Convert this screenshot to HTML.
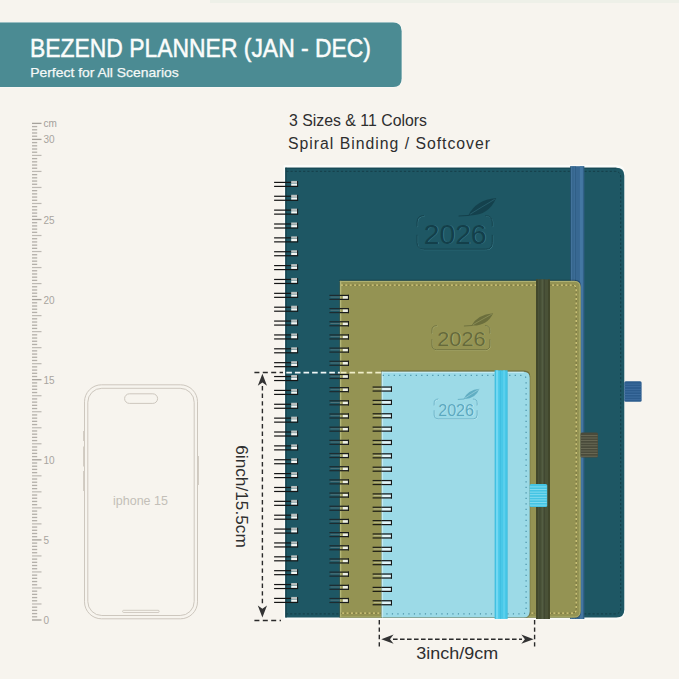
<!DOCTYPE html>
<html><head><meta charset="utf-8"><style>
html,body{margin:0;padding:0;background:#f7f4ee;width:679px;height:679px;overflow:hidden}
svg{display:block}
text{font-family:"Liberation Sans",sans-serif}
</style></head><body>
<svg width="679" height="679" viewBox="0 0 679 679">

<rect x="210" y="0" width="469" height="3" fill="#eef0e8"/>
<path d="M0 22.6 H393 Q401.6 22.6 401.6 31.2 V78.4 Q401.6 87 393 87 H0 Z" fill="#4b8b93" stroke="#fdfdfb" stroke-width="1.2" stroke-opacity="0.8"/>
<path d="M0 22.6 H393 Q401.6 22.6 401.6 31.2 V78.4 Q401.6 87 393 87 H0 Z" fill="#4b8b93"/>
<text x="30" y="57" font-size="25.5" fill="#fafcfb" stroke="#fafcfb" stroke-width="0.5" textLength="341" lengthAdjust="spacingAndGlyphs">BEZEND PLANNER (JAN - DEC)</text>
<text x="30.2" y="77" font-size="13" fill="#f4f8f7" stroke="#f4f8f7" stroke-width="0.25" textLength="148.5" lengthAdjust="spacingAndGlyphs">Perfect for All Scenarios</text>
<rect x="32" y="619.35" width="9.5" height="1.3" fill="#a6a29c"/>
<rect x="32" y="616.15" width="5.2" height="1.3" fill="#b3afa9"/>
<rect x="32" y="612.94" width="5.2" height="1.3" fill="#b3afa9"/>
<rect x="32" y="609.74" width="5.2" height="1.3" fill="#b3afa9"/>
<rect x="32" y="606.53" width="5.2" height="1.3" fill="#b3afa9"/>
<rect x="32" y="603.38" width="9.5" height="1.2" fill="#bdb9b3"/>
<rect x="32" y="600.13" width="5.2" height="1.3" fill="#b3afa9"/>
<rect x="32" y="596.92" width="5.2" height="1.3" fill="#b3afa9"/>
<rect x="32" y="593.72" width="5.2" height="1.3" fill="#b3afa9"/>
<rect x="32" y="590.51" width="5.2" height="1.3" fill="#b3afa9"/>
<rect x="32" y="587.36" width="9.5" height="1.2" fill="#bdb9b3"/>
<rect x="32" y="584.11" width="5.2" height="1.3" fill="#b3afa9"/>
<rect x="32" y="580.90" width="5.2" height="1.3" fill="#b3afa9"/>
<rect x="32" y="577.70" width="5.2" height="1.3" fill="#b3afa9"/>
<rect x="32" y="574.49" width="5.2" height="1.3" fill="#b3afa9"/>
<rect x="32" y="571.34" width="9.5" height="1.2" fill="#bdb9b3"/>
<rect x="32" y="568.09" width="5.2" height="1.3" fill="#b3afa9"/>
<rect x="32" y="564.88" width="5.2" height="1.3" fill="#b3afa9"/>
<rect x="32" y="561.68" width="5.2" height="1.3" fill="#b3afa9"/>
<rect x="32" y="558.47" width="5.2" height="1.3" fill="#b3afa9"/>
<rect x="32" y="555.32" width="9.5" height="1.2" fill="#bdb9b3"/>
<rect x="32" y="552.07" width="5.2" height="1.3" fill="#b3afa9"/>
<rect x="32" y="548.86" width="5.2" height="1.3" fill="#b3afa9"/>
<rect x="32" y="545.66" width="5.2" height="1.3" fill="#b3afa9"/>
<rect x="32" y="542.45" width="5.2" height="1.3" fill="#b3afa9"/>
<rect x="32" y="539.25" width="9.5" height="1.3" fill="#a6a29c"/>
<rect x="32" y="536.05" width="5.2" height="1.3" fill="#b3afa9"/>
<rect x="32" y="532.84" width="5.2" height="1.3" fill="#b3afa9"/>
<rect x="32" y="529.64" width="5.2" height="1.3" fill="#b3afa9"/>
<rect x="32" y="526.43" width="5.2" height="1.3" fill="#b3afa9"/>
<rect x="32" y="523.28" width="9.5" height="1.2" fill="#bdb9b3"/>
<rect x="32" y="520.03" width="5.2" height="1.3" fill="#b3afa9"/>
<rect x="32" y="516.82" width="5.2" height="1.3" fill="#b3afa9"/>
<rect x="32" y="513.62" width="5.2" height="1.3" fill="#b3afa9"/>
<rect x="32" y="510.41" width="5.2" height="1.3" fill="#b3afa9"/>
<rect x="32" y="507.26" width="9.5" height="1.2" fill="#bdb9b3"/>
<rect x="32" y="504.01" width="5.2" height="1.3" fill="#b3afa9"/>
<rect x="32" y="500.80" width="5.2" height="1.3" fill="#b3afa9"/>
<rect x="32" y="497.60" width="5.2" height="1.3" fill="#b3afa9"/>
<rect x="32" y="494.39" width="5.2" height="1.3" fill="#b3afa9"/>
<rect x="32" y="491.24" width="9.5" height="1.2" fill="#bdb9b3"/>
<rect x="32" y="487.99" width="5.2" height="1.3" fill="#b3afa9"/>
<rect x="32" y="484.78" width="5.2" height="1.3" fill="#b3afa9"/>
<rect x="32" y="481.58" width="5.2" height="1.3" fill="#b3afa9"/>
<rect x="32" y="478.37" width="5.2" height="1.3" fill="#b3afa9"/>
<rect x="32" y="475.22" width="9.5" height="1.2" fill="#bdb9b3"/>
<rect x="32" y="471.97" width="5.2" height="1.3" fill="#b3afa9"/>
<rect x="32" y="468.76" width="5.2" height="1.3" fill="#b3afa9"/>
<rect x="32" y="465.56" width="5.2" height="1.3" fill="#b3afa9"/>
<rect x="32" y="462.35" width="5.2" height="1.3" fill="#b3afa9"/>
<rect x="32" y="459.15" width="9.5" height="1.3" fill="#a6a29c"/>
<rect x="32" y="455.95" width="5.2" height="1.3" fill="#b3afa9"/>
<rect x="32" y="452.74" width="5.2" height="1.3" fill="#b3afa9"/>
<rect x="32" y="449.54" width="5.2" height="1.3" fill="#b3afa9"/>
<rect x="32" y="446.33" width="5.2" height="1.3" fill="#b3afa9"/>
<rect x="32" y="443.18" width="9.5" height="1.2" fill="#bdb9b3"/>
<rect x="32" y="439.93" width="5.2" height="1.3" fill="#b3afa9"/>
<rect x="32" y="436.72" width="5.2" height="1.3" fill="#b3afa9"/>
<rect x="32" y="433.52" width="5.2" height="1.3" fill="#b3afa9"/>
<rect x="32" y="430.31" width="5.2" height="1.3" fill="#b3afa9"/>
<rect x="32" y="427.16" width="9.5" height="1.2" fill="#bdb9b3"/>
<rect x="32" y="423.91" width="5.2" height="1.3" fill="#b3afa9"/>
<rect x="32" y="420.70" width="5.2" height="1.3" fill="#b3afa9"/>
<rect x="32" y="417.50" width="5.2" height="1.3" fill="#b3afa9"/>
<rect x="32" y="414.29" width="5.2" height="1.3" fill="#b3afa9"/>
<rect x="32" y="411.14" width="9.5" height="1.2" fill="#bdb9b3"/>
<rect x="32" y="407.89" width="5.2" height="1.3" fill="#b3afa9"/>
<rect x="32" y="404.68" width="5.2" height="1.3" fill="#b3afa9"/>
<rect x="32" y="401.48" width="5.2" height="1.3" fill="#b3afa9"/>
<rect x="32" y="398.27" width="5.2" height="1.3" fill="#b3afa9"/>
<rect x="32" y="395.12" width="9.5" height="1.2" fill="#bdb9b3"/>
<rect x="32" y="391.87" width="5.2" height="1.3" fill="#b3afa9"/>
<rect x="32" y="388.66" width="5.2" height="1.3" fill="#b3afa9"/>
<rect x="32" y="385.46" width="5.2" height="1.3" fill="#b3afa9"/>
<rect x="32" y="382.25" width="5.2" height="1.3" fill="#b3afa9"/>
<rect x="32" y="379.05" width="9.5" height="1.3" fill="#a6a29c"/>
<rect x="32" y="375.85" width="5.2" height="1.3" fill="#b3afa9"/>
<rect x="32" y="372.64" width="5.2" height="1.3" fill="#b3afa9"/>
<rect x="32" y="369.44" width="5.2" height="1.3" fill="#b3afa9"/>
<rect x="32" y="366.23" width="5.2" height="1.3" fill="#b3afa9"/>
<rect x="32" y="363.08" width="9.5" height="1.2" fill="#bdb9b3"/>
<rect x="32" y="359.83" width="5.2" height="1.3" fill="#b3afa9"/>
<rect x="32" y="356.62" width="5.2" height="1.3" fill="#b3afa9"/>
<rect x="32" y="353.42" width="5.2" height="1.3" fill="#b3afa9"/>
<rect x="32" y="350.21" width="5.2" height="1.3" fill="#b3afa9"/>
<rect x="32" y="347.06" width="9.5" height="1.2" fill="#bdb9b3"/>
<rect x="32" y="343.81" width="5.2" height="1.3" fill="#b3afa9"/>
<rect x="32" y="340.60" width="5.2" height="1.3" fill="#b3afa9"/>
<rect x="32" y="337.40" width="5.2" height="1.3" fill="#b3afa9"/>
<rect x="32" y="334.19" width="5.2" height="1.3" fill="#b3afa9"/>
<rect x="32" y="331.04" width="9.5" height="1.2" fill="#bdb9b3"/>
<rect x="32" y="327.79" width="5.2" height="1.3" fill="#b3afa9"/>
<rect x="32" y="324.58" width="5.2" height="1.3" fill="#b3afa9"/>
<rect x="32" y="321.38" width="5.2" height="1.3" fill="#b3afa9"/>
<rect x="32" y="318.17" width="5.2" height="1.3" fill="#b3afa9"/>
<rect x="32" y="315.02" width="9.5" height="1.2" fill="#bdb9b3"/>
<rect x="32" y="311.77" width="5.2" height="1.3" fill="#b3afa9"/>
<rect x="32" y="308.56" width="5.2" height="1.3" fill="#b3afa9"/>
<rect x="32" y="305.36" width="5.2" height="1.3" fill="#b3afa9"/>
<rect x="32" y="302.15" width="5.2" height="1.3" fill="#b3afa9"/>
<rect x="32" y="298.95" width="9.5" height="1.3" fill="#a6a29c"/>
<rect x="32" y="295.75" width="5.2" height="1.3" fill="#b3afa9"/>
<rect x="32" y="292.54" width="5.2" height="1.3" fill="#b3afa9"/>
<rect x="32" y="289.34" width="5.2" height="1.3" fill="#b3afa9"/>
<rect x="32" y="286.13" width="5.2" height="1.3" fill="#b3afa9"/>
<rect x="32" y="282.98" width="9.5" height="1.2" fill="#bdb9b3"/>
<rect x="32" y="279.73" width="5.2" height="1.3" fill="#b3afa9"/>
<rect x="32" y="276.52" width="5.2" height="1.3" fill="#b3afa9"/>
<rect x="32" y="273.32" width="5.2" height="1.3" fill="#b3afa9"/>
<rect x="32" y="270.11" width="5.2" height="1.3" fill="#b3afa9"/>
<rect x="32" y="266.96" width="9.5" height="1.2" fill="#bdb9b3"/>
<rect x="32" y="263.71" width="5.2" height="1.3" fill="#b3afa9"/>
<rect x="32" y="260.50" width="5.2" height="1.3" fill="#b3afa9"/>
<rect x="32" y="257.30" width="5.2" height="1.3" fill="#b3afa9"/>
<rect x="32" y="254.09" width="5.2" height="1.3" fill="#b3afa9"/>
<rect x="32" y="250.94" width="9.5" height="1.2" fill="#bdb9b3"/>
<rect x="32" y="247.69" width="5.2" height="1.3" fill="#b3afa9"/>
<rect x="32" y="244.48" width="5.2" height="1.3" fill="#b3afa9"/>
<rect x="32" y="241.28" width="5.2" height="1.3" fill="#b3afa9"/>
<rect x="32" y="238.07" width="5.2" height="1.3" fill="#b3afa9"/>
<rect x="32" y="234.92" width="9.5" height="1.2" fill="#bdb9b3"/>
<rect x="32" y="231.67" width="5.2" height="1.3" fill="#b3afa9"/>
<rect x="32" y="228.46" width="5.2" height="1.3" fill="#b3afa9"/>
<rect x="32" y="225.26" width="5.2" height="1.3" fill="#b3afa9"/>
<rect x="32" y="222.05" width="5.2" height="1.3" fill="#b3afa9"/>
<rect x="32" y="218.85" width="9.5" height="1.3" fill="#a6a29c"/>
<rect x="32" y="215.65" width="5.2" height="1.3" fill="#b3afa9"/>
<rect x="32" y="212.44" width="5.2" height="1.3" fill="#b3afa9"/>
<rect x="32" y="209.24" width="5.2" height="1.3" fill="#b3afa9"/>
<rect x="32" y="206.03" width="5.2" height="1.3" fill="#b3afa9"/>
<rect x="32" y="202.88" width="9.5" height="1.2" fill="#bdb9b3"/>
<rect x="32" y="199.63" width="5.2" height="1.3" fill="#b3afa9"/>
<rect x="32" y="196.42" width="5.2" height="1.3" fill="#b3afa9"/>
<rect x="32" y="193.22" width="5.2" height="1.3" fill="#b3afa9"/>
<rect x="32" y="190.01" width="5.2" height="1.3" fill="#b3afa9"/>
<rect x="32" y="186.86" width="9.5" height="1.2" fill="#bdb9b3"/>
<rect x="32" y="183.61" width="5.2" height="1.3" fill="#b3afa9"/>
<rect x="32" y="180.40" width="5.2" height="1.3" fill="#b3afa9"/>
<rect x="32" y="177.20" width="5.2" height="1.3" fill="#b3afa9"/>
<rect x="32" y="173.99" width="5.2" height="1.3" fill="#b3afa9"/>
<rect x="32" y="170.84" width="9.5" height="1.2" fill="#bdb9b3"/>
<rect x="32" y="167.59" width="5.2" height="1.3" fill="#b3afa9"/>
<rect x="32" y="164.38" width="5.2" height="1.3" fill="#b3afa9"/>
<rect x="32" y="161.18" width="5.2" height="1.3" fill="#b3afa9"/>
<rect x="32" y="157.97" width="5.2" height="1.3" fill="#b3afa9"/>
<rect x="32" y="154.82" width="9.5" height="1.2" fill="#bdb9b3"/>
<rect x="32" y="151.57" width="5.2" height="1.3" fill="#b3afa9"/>
<rect x="32" y="148.36" width="5.2" height="1.3" fill="#b3afa9"/>
<rect x="32" y="145.16" width="5.2" height="1.3" fill="#b3afa9"/>
<rect x="32" y="141.95" width="5.2" height="1.3" fill="#b3afa9"/>
<rect x="32" y="138.75" width="9.5" height="1.3" fill="#a6a29c"/>
<rect x="32" y="135.55" width="5.2" height="1.3" fill="#b3afa9"/>
<rect x="32" y="132.34" width="5.2" height="1.3" fill="#b3afa9"/>
<rect x="32" y="129.14" width="5.2" height="1.3" fill="#b3afa9"/>
<rect x="32" y="125.93" width="5.2" height="1.3" fill="#b3afa9"/>
<rect x="32" y="122.73" width="9.5" height="1.3" fill="#a6a29c"/>
<text x="43.5" y="127" font-size="10" fill="#a3a09a">cm</text>
<text x="43.5" y="143.4" font-size="10" fill="#a8a49e">30</text>
<text x="43.5" y="223.5" font-size="10" fill="#a8a49e">25</text>
<text x="43.5" y="303.6" font-size="10" fill="#a8a49e">20</text>
<text x="43.5" y="383.7" font-size="10" fill="#a8a49e">15</text>
<text x="43.5" y="463.8" font-size="10" fill="#a8a49e">10</text>
<text x="43.5" y="543.9" font-size="10" fill="#a8a49e">5</text>
<text x="43.5" y="624.0" font-size="10" fill="#a8a49e">0</text>
<g fill="none" stroke="#cdc7be" stroke-width="1">
<rect x="84.5" y="384.8" width="113" height="234" rx="17"/>
<rect x="87.8" y="388.3" width="106.4" height="227.2" rx="14"/>
<rect x="124.6" y="393.8" width="33" height="9.6" rx="4.8"/>
</g>
<rect x="122.6" y="610.3" width="36.6" height="2.2" rx="1.1" fill="none" stroke="#cdc7be" stroke-width="0.9"/>
<g fill="#d3cdc4">
<rect x="83" y="431" width="1.4" height="10"/>
<rect x="83" y="446.5" width="1.4" height="20"/>
<rect x="83" y="471" width="1.4" height="20"/>
<rect x="197.6" y="456" width="1.4" height="29"/>
</g>
<text x="140.5" y="504.5" font-size="12.5" fill="#c3bfb8" text-anchor="middle">iphone 15</text>
<text x="289" y="126.3" font-size="16.5" fill="#2e2e2e" textLength="138" lengthAdjust="spacingAndGlyphs">3 Sizes &amp; 11 Colors</text>
<text x="288" y="149.3" font-size="15.8" fill="#2e2e2e" textLength="202" lengthAdjust="spacing">Spiral Binding / Softcover</text>
<path d="M283.6 164.9 H616.8 Q624.8 164.9 624.8 172.9 V611.7 Q624.8 619.7 616.8 619.7 H283.6 Z" fill="#fcfcfa"/>
<path d="M285.3 167.7 H616.3 Q624.3 167.7 624.3 175.7 V609.5 Q624.3 617.5 616.3 617.5 H285.3 Z" fill="#1e5764"/>
<rect x="285.3" y="167.7" width="331.0" height="0.9" fill="#17434e"/>
<rect x="285.3" y="167.7" width="1.4" height="449.8" fill="#17434e"/>
<path d="M286.3 171.3 H614.7 Q620.7 171.3 620.7 177.3 V607.9 Q620.7 613.9 614.7 613.9 H286.3" fill="none" stroke="#143e48" stroke-width="1.00" stroke-dasharray="2.2 2"/>
<rect x="624.3" y="381.2" width="17.3" height="20.6" rx="1.5" fill="#2c5c8d"/>
<rect x="624.3" y="383.7" width="16.8" height="0.8" fill="#4070a2"/>
<rect x="624.3" y="386.3" width="16.8" height="0.8" fill="#4070a2"/>
<rect x="624.3" y="388.9" width="16.8" height="0.8" fill="#4070a2"/>
<rect x="624.3" y="391.5" width="16.8" height="0.8" fill="#4070a2"/>
<rect x="624.3" y="394.1" width="16.8" height="0.8" fill="#4070a2"/>
<rect x="624.3" y="396.7" width="16.8" height="0.8" fill="#4070a2"/>
<rect x="624.3" y="399.3" width="16.8" height="0.8" fill="#4070a2"/>
<rect x="570.4" y="166.2" width="13.8" height="452.8" fill="#386892"/>
<rect x="570.40" y="166.2" width="0.70" height="452.8" fill="#1f4a66"/>
<rect x="571.20" y="166.2" width="1.30" height="452.8" fill="#4878a0"/>
<rect x="572.70" y="166.2" width="0.80" height="452.8" fill="#27557a"/>
<rect x="573.60" y="166.2" width="1.10" height="452.8" fill="#4576a0"/>
<rect x="574.80" y="166.2" width="0.80" height="452.8" fill="#2b5a80"/>
<rect x="579.90" y="166.2" width="3.00" height="452.8" fill="#4477a2"/>
<rect x="583.50" y="166.2" width="0.70" height="452.8" fill="#2c5b7e"/>
<text x="455.9" y="244.3" font-size="28.4" fill="#3a7a89" text-anchor="middle" textLength="62.7" lengthAdjust="spacingAndGlyphs">2026</text>
<text x="455.2" y="243.6" font-size="28.4" fill="#133f4a" text-anchor="middle" textLength="62.7" lengthAdjust="spacingAndGlyphs">2026</text>
<path d="M424.1 216.2 Q417.6 216.2 417.6 222.7 V226.7 M417.6 235.8 V243.2 Q417.6 249.7 424.1 249.7 H486.3 Q492.8 249.7 492.8 243.2 V235.8 M492.8 226.7 V222.7 Q492.8 216.2 486.3 216.2" fill="none" stroke="#3a7a89" stroke-width="0.95" stroke-linecap="round"/>
<path transform="translate(-0.51,-0.51)" d="M424.1 216.2 Q417.6 216.2 417.6 222.7 V226.7 M417.6 235.8 V243.2 Q417.6 249.7 424.1 249.7 H486.3 Q492.8 249.7 492.8 243.2 V235.8 M492.8 226.7 V222.7 Q492.8 216.2 486.3 216.2" fill="none" stroke="#133f4a" stroke-width="0.95" stroke-linecap="round"/>
<path d="M468.4 215.4 Q475.9 200.0 496.2 198.1 Q488.4 216.4 468.4 215.4 Z" fill="#133f4a" opacity="0.9"/>
<path d="M470.2 214.2 Q481.5 207.1 494.7 199.3" fill="none" stroke="#3a7a89" stroke-width="0.66" opacity="0.7"/>
<path d="M459.0 216.0 L469.0 215.4" fill="none" stroke="#133f4a" stroke-width="0.95" stroke-linecap="round"/>
<rect x="274.1" y="181.80" width="17.1" height="1.2" fill="#151515"/>
<rect x="274.1" y="185.80" width="24.0" height="1.2" fill="#151515"/>
<rect x="291.2" y="180.90" width="5.9" height="2.3" fill="#b9bfbe"/>
<rect x="291.2" y="183.50" width="5.9" height="2.2" fill="#f4f5f3"/>
<rect x="297.1" y="181.00" width="1" height="5.6" fill="#1a1a1a"/>
<rect x="274.1" y="195.67" width="17.1" height="1.2" fill="#151515"/>
<rect x="274.1" y="199.67" width="24.0" height="1.2" fill="#151515"/>
<rect x="291.2" y="194.77" width="5.9" height="2.3" fill="#b9bfbe"/>
<rect x="291.2" y="197.37" width="5.9" height="2.2" fill="#f4f5f3"/>
<rect x="297.1" y="194.87" width="1" height="5.6" fill="#1a1a1a"/>
<rect x="274.1" y="209.53" width="17.1" height="1.2" fill="#151515"/>
<rect x="274.1" y="213.53" width="24.0" height="1.2" fill="#151515"/>
<rect x="291.2" y="208.63" width="5.9" height="2.3" fill="#b9bfbe"/>
<rect x="291.2" y="211.23" width="5.9" height="2.2" fill="#f4f5f3"/>
<rect x="297.1" y="208.73" width="1" height="5.6" fill="#1a1a1a"/>
<rect x="274.1" y="223.40" width="17.1" height="1.2" fill="#151515"/>
<rect x="274.1" y="227.40" width="24.0" height="1.2" fill="#151515"/>
<rect x="291.2" y="222.50" width="5.9" height="2.3" fill="#b9bfbe"/>
<rect x="291.2" y="225.10" width="5.9" height="2.2" fill="#f4f5f3"/>
<rect x="297.1" y="222.60" width="1" height="5.6" fill="#1a1a1a"/>
<rect x="274.1" y="237.27" width="17.1" height="1.2" fill="#151515"/>
<rect x="274.1" y="241.27" width="24.0" height="1.2" fill="#151515"/>
<rect x="291.2" y="236.37" width="5.9" height="2.3" fill="#b9bfbe"/>
<rect x="291.2" y="238.97" width="5.9" height="2.2" fill="#f4f5f3"/>
<rect x="297.1" y="236.47" width="1" height="5.6" fill="#1a1a1a"/>
<rect x="274.1" y="251.14" width="17.1" height="1.2" fill="#151515"/>
<rect x="274.1" y="255.14" width="24.0" height="1.2" fill="#151515"/>
<rect x="291.2" y="250.24" width="5.9" height="2.3" fill="#b9bfbe"/>
<rect x="291.2" y="252.84" width="5.9" height="2.2" fill="#f4f5f3"/>
<rect x="297.1" y="250.34" width="1" height="5.6" fill="#1a1a1a"/>
<rect x="274.1" y="265.00" width="17.1" height="1.2" fill="#151515"/>
<rect x="274.1" y="269.00" width="24.0" height="1.2" fill="#151515"/>
<rect x="291.2" y="264.10" width="5.9" height="2.3" fill="#b9bfbe"/>
<rect x="291.2" y="266.70" width="5.9" height="2.2" fill="#f4f5f3"/>
<rect x="297.1" y="264.20" width="1" height="5.6" fill="#1a1a1a"/>
<rect x="274.1" y="278.87" width="17.1" height="1.2" fill="#151515"/>
<rect x="274.1" y="282.87" width="24.0" height="1.2" fill="#151515"/>
<rect x="291.2" y="277.97" width="5.9" height="2.3" fill="#b9bfbe"/>
<rect x="291.2" y="280.57" width="5.9" height="2.2" fill="#f4f5f3"/>
<rect x="297.1" y="278.07" width="1" height="5.6" fill="#1a1a1a"/>
<rect x="274.1" y="292.74" width="17.1" height="1.2" fill="#151515"/>
<rect x="274.1" y="296.74" width="24.0" height="1.2" fill="#151515"/>
<rect x="291.2" y="291.84" width="5.9" height="2.3" fill="#b9bfbe"/>
<rect x="291.2" y="294.44" width="5.9" height="2.2" fill="#f4f5f3"/>
<rect x="297.1" y="291.94" width="1" height="5.6" fill="#1a1a1a"/>
<rect x="274.1" y="306.60" width="17.1" height="1.2" fill="#151515"/>
<rect x="274.1" y="310.60" width="24.0" height="1.2" fill="#151515"/>
<rect x="291.2" y="305.70" width="5.9" height="2.3" fill="#b9bfbe"/>
<rect x="291.2" y="308.30" width="5.9" height="2.2" fill="#f4f5f3"/>
<rect x="297.1" y="305.80" width="1" height="5.6" fill="#1a1a1a"/>
<rect x="274.1" y="320.47" width="17.1" height="1.2" fill="#151515"/>
<rect x="274.1" y="324.47" width="24.0" height="1.2" fill="#151515"/>
<rect x="291.2" y="319.57" width="5.9" height="2.3" fill="#b9bfbe"/>
<rect x="291.2" y="322.17" width="5.9" height="2.2" fill="#f4f5f3"/>
<rect x="297.1" y="319.67" width="1" height="5.6" fill="#1a1a1a"/>
<rect x="274.1" y="334.34" width="17.1" height="1.2" fill="#151515"/>
<rect x="274.1" y="338.34" width="24.0" height="1.2" fill="#151515"/>
<rect x="291.2" y="333.44" width="5.9" height="2.3" fill="#b9bfbe"/>
<rect x="291.2" y="336.04" width="5.9" height="2.2" fill="#f4f5f3"/>
<rect x="297.1" y="333.54" width="1" height="5.6" fill="#1a1a1a"/>
<rect x="274.1" y="348.20" width="17.1" height="1.2" fill="#151515"/>
<rect x="274.1" y="352.20" width="24.0" height="1.2" fill="#151515"/>
<rect x="291.2" y="347.30" width="5.9" height="2.3" fill="#b9bfbe"/>
<rect x="291.2" y="349.90" width="5.9" height="2.2" fill="#f4f5f3"/>
<rect x="297.1" y="347.40" width="1" height="5.6" fill="#1a1a1a"/>
<rect x="274.1" y="362.07" width="17.1" height="1.2" fill="#151515"/>
<rect x="274.1" y="366.07" width="24.0" height="1.2" fill="#151515"/>
<rect x="291.2" y="361.17" width="5.9" height="2.3" fill="#b9bfbe"/>
<rect x="291.2" y="363.77" width="5.9" height="2.2" fill="#f4f5f3"/>
<rect x="297.1" y="361.27" width="1" height="5.6" fill="#1a1a1a"/>
<rect x="274.1" y="375.94" width="17.1" height="1.2" fill="#151515"/>
<rect x="274.1" y="379.94" width="24.0" height="1.2" fill="#151515"/>
<rect x="291.2" y="375.04" width="5.9" height="2.3" fill="#b9bfbe"/>
<rect x="291.2" y="377.64" width="5.9" height="2.2" fill="#f4f5f3"/>
<rect x="297.1" y="375.14" width="1" height="5.6" fill="#1a1a1a"/>
<rect x="274.1" y="389.81" width="17.1" height="1.2" fill="#151515"/>
<rect x="274.1" y="393.81" width="24.0" height="1.2" fill="#151515"/>
<rect x="291.2" y="388.91" width="5.9" height="2.3" fill="#b9bfbe"/>
<rect x="291.2" y="391.51" width="5.9" height="2.2" fill="#f4f5f3"/>
<rect x="297.1" y="389.01" width="1" height="5.6" fill="#1a1a1a"/>
<rect x="274.1" y="403.67" width="17.1" height="1.2" fill="#151515"/>
<rect x="274.1" y="407.67" width="24.0" height="1.2" fill="#151515"/>
<rect x="291.2" y="402.77" width="5.9" height="2.3" fill="#b9bfbe"/>
<rect x="291.2" y="405.37" width="5.9" height="2.2" fill="#f4f5f3"/>
<rect x="297.1" y="402.87" width="1" height="5.6" fill="#1a1a1a"/>
<rect x="274.1" y="417.54" width="17.1" height="1.2" fill="#151515"/>
<rect x="274.1" y="421.54" width="24.0" height="1.2" fill="#151515"/>
<rect x="291.2" y="416.64" width="5.9" height="2.3" fill="#b9bfbe"/>
<rect x="291.2" y="419.24" width="5.9" height="2.2" fill="#f4f5f3"/>
<rect x="297.1" y="416.74" width="1" height="5.6" fill="#1a1a1a"/>
<rect x="274.1" y="431.41" width="17.1" height="1.2" fill="#151515"/>
<rect x="274.1" y="435.41" width="24.0" height="1.2" fill="#151515"/>
<rect x="291.2" y="430.51" width="5.9" height="2.3" fill="#b9bfbe"/>
<rect x="291.2" y="433.11" width="5.9" height="2.2" fill="#f4f5f3"/>
<rect x="297.1" y="430.61" width="1" height="5.6" fill="#1a1a1a"/>
<rect x="274.1" y="445.27" width="17.1" height="1.2" fill="#151515"/>
<rect x="274.1" y="449.27" width="24.0" height="1.2" fill="#151515"/>
<rect x="291.2" y="444.37" width="5.9" height="2.3" fill="#b9bfbe"/>
<rect x="291.2" y="446.97" width="5.9" height="2.2" fill="#f4f5f3"/>
<rect x="297.1" y="444.47" width="1" height="5.6" fill="#1a1a1a"/>
<rect x="274.1" y="459.14" width="17.1" height="1.2" fill="#151515"/>
<rect x="274.1" y="463.14" width="24.0" height="1.2" fill="#151515"/>
<rect x="291.2" y="458.24" width="5.9" height="2.3" fill="#b9bfbe"/>
<rect x="291.2" y="460.84" width="5.9" height="2.2" fill="#f4f5f3"/>
<rect x="297.1" y="458.34" width="1" height="5.6" fill="#1a1a1a"/>
<rect x="274.1" y="473.01" width="17.1" height="1.2" fill="#151515"/>
<rect x="274.1" y="477.01" width="24.0" height="1.2" fill="#151515"/>
<rect x="291.2" y="472.11" width="5.9" height="2.3" fill="#b9bfbe"/>
<rect x="291.2" y="474.71" width="5.9" height="2.2" fill="#f4f5f3"/>
<rect x="297.1" y="472.21" width="1" height="5.6" fill="#1a1a1a"/>
<rect x="274.1" y="486.87" width="17.1" height="1.2" fill="#151515"/>
<rect x="274.1" y="490.87" width="24.0" height="1.2" fill="#151515"/>
<rect x="291.2" y="485.97" width="5.9" height="2.3" fill="#b9bfbe"/>
<rect x="291.2" y="488.57" width="5.9" height="2.2" fill="#f4f5f3"/>
<rect x="297.1" y="486.07" width="1" height="5.6" fill="#1a1a1a"/>
<rect x="274.1" y="500.74" width="17.1" height="1.2" fill="#151515"/>
<rect x="274.1" y="504.74" width="24.0" height="1.2" fill="#151515"/>
<rect x="291.2" y="499.84" width="5.9" height="2.3" fill="#b9bfbe"/>
<rect x="291.2" y="502.44" width="5.9" height="2.2" fill="#f4f5f3"/>
<rect x="297.1" y="499.94" width="1" height="5.6" fill="#1a1a1a"/>
<rect x="274.1" y="514.61" width="17.1" height="1.2" fill="#151515"/>
<rect x="274.1" y="518.61" width="24.0" height="1.2" fill="#151515"/>
<rect x="291.2" y="513.71" width="5.9" height="2.3" fill="#b9bfbe"/>
<rect x="291.2" y="516.31" width="5.9" height="2.2" fill="#f4f5f3"/>
<rect x="297.1" y="513.81" width="1" height="5.6" fill="#1a1a1a"/>
<rect x="274.1" y="528.48" width="17.1" height="1.2" fill="#151515"/>
<rect x="274.1" y="532.48" width="24.0" height="1.2" fill="#151515"/>
<rect x="291.2" y="527.58" width="5.9" height="2.3" fill="#b9bfbe"/>
<rect x="291.2" y="530.18" width="5.9" height="2.2" fill="#f4f5f3"/>
<rect x="297.1" y="527.68" width="1" height="5.6" fill="#1a1a1a"/>
<rect x="274.1" y="542.34" width="17.1" height="1.2" fill="#151515"/>
<rect x="274.1" y="546.34" width="24.0" height="1.2" fill="#151515"/>
<rect x="291.2" y="541.44" width="5.9" height="2.3" fill="#b9bfbe"/>
<rect x="291.2" y="544.04" width="5.9" height="2.2" fill="#f4f5f3"/>
<rect x="297.1" y="541.54" width="1" height="5.6" fill="#1a1a1a"/>
<rect x="274.1" y="556.21" width="17.1" height="1.2" fill="#151515"/>
<rect x="274.1" y="560.21" width="24.0" height="1.2" fill="#151515"/>
<rect x="291.2" y="555.31" width="5.9" height="2.3" fill="#b9bfbe"/>
<rect x="291.2" y="557.91" width="5.9" height="2.2" fill="#f4f5f3"/>
<rect x="297.1" y="555.41" width="1" height="5.6" fill="#1a1a1a"/>
<rect x="274.1" y="570.08" width="17.1" height="1.2" fill="#151515"/>
<rect x="274.1" y="574.08" width="24.0" height="1.2" fill="#151515"/>
<rect x="291.2" y="569.18" width="5.9" height="2.3" fill="#b9bfbe"/>
<rect x="291.2" y="571.78" width="5.9" height="2.2" fill="#f4f5f3"/>
<rect x="297.1" y="569.28" width="1" height="5.6" fill="#1a1a1a"/>
<rect x="274.1" y="583.94" width="17.1" height="1.2" fill="#151515"/>
<rect x="274.1" y="587.94" width="24.0" height="1.2" fill="#151515"/>
<rect x="291.2" y="583.04" width="5.9" height="2.3" fill="#b9bfbe"/>
<rect x="291.2" y="585.64" width="5.9" height="2.2" fill="#f4f5f3"/>
<rect x="297.1" y="583.14" width="1" height="5.6" fill="#1a1a1a"/>
<rect x="274.1" y="597.81" width="17.1" height="1.2" fill="#151515"/>
<rect x="274.1" y="601.81" width="24.0" height="1.2" fill="#151515"/>
<rect x="291.2" y="596.91" width="5.9" height="2.3" fill="#b9bfbe"/>
<rect x="291.2" y="599.51" width="5.9" height="2.2" fill="#f4f5f3"/>
<rect x="297.1" y="597.01" width="1" height="5.6" fill="#1a1a1a"/>
<path d="M339.3 279.7 H575.1 Q581.1 279.7 581.1 285.7 V612.1 Q581.1 618.1 575.1 618.1 H339.3 Z" fill="#000" opacity="0.25"/>
<path d="M339.9 280.9 H574.5 Q580.5 280.9 580.5 286.9 V611.5 Q580.5 617.5 574.5 617.5 H339.9 Z" fill="#949353"/>
<rect x="339.9" y="280.9" width="234.6" height="0.9" fill="#b6b978"/>
<rect x="339.9" y="280.9" width="1.4" height="336.6" fill="#b3b576"/>
<path d="M339.9 281.4 H574.5 Q580.0 281.4 580.0 286.9 V611.5 Q580.0 617.0 574.5 617.0 H339.9" fill="none" stroke="#aeb071" stroke-width="1"/>
<path d="M340.9 285.2 H572.2 Q576.2 285.2 576.2 289.2 V609.2 Q576.2 613.2 572.2 613.2 H340.9" fill="none" stroke="#7a7540" stroke-width="0.96"/>
<path d="M340.9 285.2 H572.2 Q576.2 285.2 576.2 289.2 V609.2 Q576.2 613.2 572.2 613.2 H340.9" fill="none" stroke="#ddd283" stroke-width="1.20" stroke-dasharray="2 2.4"/>
<rect x="580.5" y="432.5" width="17.5" height="25.1" rx="1.5" fill="#4a4b3b"/>
<rect x="580.5" y="435.0" width="17.0" height="0.8" fill="#6e6f5a"/>
<rect x="580.5" y="437.6" width="17.0" height="0.8" fill="#6e6f5a"/>
<rect x="580.5" y="440.2" width="17.0" height="0.8" fill="#6e6f5a"/>
<rect x="580.5" y="442.8" width="17.0" height="0.8" fill="#6e6f5a"/>
<rect x="580.5" y="445.4" width="17.0" height="0.8" fill="#6e6f5a"/>
<rect x="580.5" y="448.0" width="17.0" height="0.8" fill="#6e6f5a"/>
<rect x="580.5" y="450.6" width="17.0" height="0.8" fill="#6e6f5a"/>
<rect x="580.5" y="453.2" width="17.0" height="0.8" fill="#6e6f5a"/>
<rect x="580.5" y="455.8" width="17.0" height="0.8" fill="#6e6f5a"/>
<rect x="536.1" y="279.4" width="13.8" height="339.6" fill="#4a5238"/>
<rect x="536.10" y="279.4" width="1.80" height="339.6" fill="#41462b"/>
<rect x="539.60" y="279.4" width="0.70" height="339.6" fill="#3e4530"/>
<rect x="541.60" y="279.4" width="1.50" height="339.6" fill="#535d43"/>
<rect x="544.30" y="279.4" width="0.70" height="339.6" fill="#3e4530"/>
<rect x="548.10" y="279.4" width="1.80" height="339.6" fill="#41462b"/>
<text x="462.0" y="346.3" font-size="20.3" fill="#b4b77a" text-anchor="middle" textLength="48.4" lengthAdjust="spacingAndGlyphs">2026</text>
<text x="461.4" y="345.7" font-size="20.3" fill="#666a3a" text-anchor="middle" textLength="48.4" lengthAdjust="spacingAndGlyphs">2026</text>
<path d="M437.0 326.1 Q432.4 326.1 432.4 330.8 V333.6 M432.4 340.1 V345.4 Q432.4 350.1 437.0 350.1 H485.8 Q490.4 350.1 490.4 345.4 V340.1 M490.4 333.6 V330.8 Q490.4 326.1 485.8 326.1" fill="none" stroke="#b4b77a" stroke-width="0.80" stroke-linecap="round"/>
<path transform="translate(-0.42,-0.42)" d="M437.0 326.1 Q432.4 326.1 432.4 330.8 V333.6 M432.4 340.1 V345.4 Q432.4 350.1 437.0 350.1 H485.8 Q490.4 350.1 490.4 345.4 V340.1 M490.4 333.6 V330.8 Q490.4 326.1 485.8 326.1" fill="none" stroke="#666a3a" stroke-width="0.80" stroke-linecap="round"/>
<path d="M471.6 325.5 Q477.4 314.5 493.1 313.2 Q487.1 326.3 471.6 325.5 Z" fill="#666a3a" opacity="0.9"/>
<path d="M473.0 324.7 Q481.7 319.6 491.9 314.1" fill="none" stroke="#b4b77a" stroke-width="0.56" opacity="0.7"/>
<path d="M464.3 326.0 L472.0 325.5" fill="none" stroke="#666a3a" stroke-width="0.80" stroke-linecap="round"/>
<rect x="342.8" y="296.10" width="6.2" height="2.8" fill="#eef0e6"/>
<rect x="330.4" y="296.60" width="9.5" height="1" fill="#4f747c"/>
<rect x="329.4" y="294.80" width="10.5" height="1.2" fill="#1d2b30"/>
<rect x="329.4" y="298.80" width="10.5" height="1.2" fill="#1d2b30"/>
<rect x="339.9" y="294.80" width="9.1" height="1.2" fill="#1b1d1c"/>
<rect x="339.9" y="298.80" width="9.1" height="1.2" fill="#1b1d1c"/>
<rect x="347.9" y="294.80" width="1.1" height="5.2" fill="#1b1d1c"/>
<rect x="342.8" y="309.28" width="6.2" height="2.8" fill="#eef0e6"/>
<rect x="330.4" y="309.78" width="9.5" height="1" fill="#4f747c"/>
<rect x="329.4" y="307.98" width="10.5" height="1.2" fill="#1d2b30"/>
<rect x="329.4" y="311.98" width="10.5" height="1.2" fill="#1d2b30"/>
<rect x="339.9" y="307.98" width="9.1" height="1.2" fill="#1b1d1c"/>
<rect x="339.9" y="311.98" width="9.1" height="1.2" fill="#1b1d1c"/>
<rect x="347.9" y="307.98" width="1.1" height="5.2" fill="#1b1d1c"/>
<rect x="342.8" y="322.46" width="6.2" height="2.8" fill="#eef0e6"/>
<rect x="330.4" y="322.96" width="9.5" height="1" fill="#4f747c"/>
<rect x="329.4" y="321.16" width="10.5" height="1.2" fill="#1d2b30"/>
<rect x="329.4" y="325.16" width="10.5" height="1.2" fill="#1d2b30"/>
<rect x="339.9" y="321.16" width="9.1" height="1.2" fill="#1b1d1c"/>
<rect x="339.9" y="325.16" width="9.1" height="1.2" fill="#1b1d1c"/>
<rect x="347.9" y="321.16" width="1.1" height="5.2" fill="#1b1d1c"/>
<rect x="342.8" y="335.63" width="6.2" height="2.8" fill="#eef0e6"/>
<rect x="330.4" y="336.13" width="9.5" height="1" fill="#4f747c"/>
<rect x="329.4" y="334.33" width="10.5" height="1.2" fill="#1d2b30"/>
<rect x="329.4" y="338.33" width="10.5" height="1.2" fill="#1d2b30"/>
<rect x="339.9" y="334.33" width="9.1" height="1.2" fill="#1b1d1c"/>
<rect x="339.9" y="338.33" width="9.1" height="1.2" fill="#1b1d1c"/>
<rect x="347.9" y="334.33" width="1.1" height="5.2" fill="#1b1d1c"/>
<rect x="342.8" y="348.81" width="6.2" height="2.8" fill="#eef0e6"/>
<rect x="330.4" y="349.31" width="9.5" height="1" fill="#4f747c"/>
<rect x="329.4" y="347.51" width="10.5" height="1.2" fill="#1d2b30"/>
<rect x="329.4" y="351.51" width="10.5" height="1.2" fill="#1d2b30"/>
<rect x="339.9" y="347.51" width="9.1" height="1.2" fill="#1b1d1c"/>
<rect x="339.9" y="351.51" width="9.1" height="1.2" fill="#1b1d1c"/>
<rect x="347.9" y="347.51" width="1.1" height="5.2" fill="#1b1d1c"/>
<rect x="342.8" y="361.99" width="6.2" height="2.8" fill="#eef0e6"/>
<rect x="330.4" y="362.49" width="9.5" height="1" fill="#4f747c"/>
<rect x="329.4" y="360.69" width="10.5" height="1.2" fill="#1d2b30"/>
<rect x="329.4" y="364.69" width="10.5" height="1.2" fill="#1d2b30"/>
<rect x="339.9" y="360.69" width="9.1" height="1.2" fill="#1b1d1c"/>
<rect x="339.9" y="364.69" width="9.1" height="1.2" fill="#1b1d1c"/>
<rect x="347.9" y="360.69" width="1.1" height="5.2" fill="#1b1d1c"/>
<rect x="342.8" y="375.17" width="6.2" height="2.8" fill="#eef0e6"/>
<rect x="330.4" y="375.67" width="9.5" height="1" fill="#4f747c"/>
<rect x="329.4" y="373.87" width="10.5" height="1.2" fill="#1d2b30"/>
<rect x="329.4" y="377.87" width="10.5" height="1.2" fill="#1d2b30"/>
<rect x="339.9" y="373.87" width="9.1" height="1.2" fill="#1b1d1c"/>
<rect x="339.9" y="377.87" width="9.1" height="1.2" fill="#1b1d1c"/>
<rect x="347.9" y="373.87" width="1.1" height="5.2" fill="#1b1d1c"/>
<rect x="342.8" y="388.35" width="6.2" height="2.8" fill="#eef0e6"/>
<rect x="330.4" y="388.85" width="9.5" height="1" fill="#4f747c"/>
<rect x="329.4" y="387.05" width="10.5" height="1.2" fill="#1d2b30"/>
<rect x="329.4" y="391.05" width="10.5" height="1.2" fill="#1d2b30"/>
<rect x="339.9" y="387.05" width="9.1" height="1.2" fill="#1b1d1c"/>
<rect x="339.9" y="391.05" width="9.1" height="1.2" fill="#1b1d1c"/>
<rect x="347.9" y="387.05" width="1.1" height="5.2" fill="#1b1d1c"/>
<rect x="342.8" y="401.52" width="6.2" height="2.8" fill="#eef0e6"/>
<rect x="330.4" y="402.02" width="9.5" height="1" fill="#4f747c"/>
<rect x="329.4" y="400.22" width="10.5" height="1.2" fill="#1d2b30"/>
<rect x="329.4" y="404.22" width="10.5" height="1.2" fill="#1d2b30"/>
<rect x="339.9" y="400.22" width="9.1" height="1.2" fill="#1b1d1c"/>
<rect x="339.9" y="404.22" width="9.1" height="1.2" fill="#1b1d1c"/>
<rect x="347.9" y="400.22" width="1.1" height="5.2" fill="#1b1d1c"/>
<rect x="342.8" y="414.70" width="6.2" height="2.8" fill="#eef0e6"/>
<rect x="330.4" y="415.20" width="9.5" height="1" fill="#4f747c"/>
<rect x="329.4" y="413.40" width="10.5" height="1.2" fill="#1d2b30"/>
<rect x="329.4" y="417.40" width="10.5" height="1.2" fill="#1d2b30"/>
<rect x="339.9" y="413.40" width="9.1" height="1.2" fill="#1b1d1c"/>
<rect x="339.9" y="417.40" width="9.1" height="1.2" fill="#1b1d1c"/>
<rect x="347.9" y="413.40" width="1.1" height="5.2" fill="#1b1d1c"/>
<rect x="342.8" y="427.88" width="6.2" height="2.8" fill="#eef0e6"/>
<rect x="330.4" y="428.38" width="9.5" height="1" fill="#4f747c"/>
<rect x="329.4" y="426.58" width="10.5" height="1.2" fill="#1d2b30"/>
<rect x="329.4" y="430.58" width="10.5" height="1.2" fill="#1d2b30"/>
<rect x="339.9" y="426.58" width="9.1" height="1.2" fill="#1b1d1c"/>
<rect x="339.9" y="430.58" width="9.1" height="1.2" fill="#1b1d1c"/>
<rect x="347.9" y="426.58" width="1.1" height="5.2" fill="#1b1d1c"/>
<rect x="342.8" y="441.06" width="6.2" height="2.8" fill="#eef0e6"/>
<rect x="330.4" y="441.56" width="9.5" height="1" fill="#4f747c"/>
<rect x="329.4" y="439.76" width="10.5" height="1.2" fill="#1d2b30"/>
<rect x="329.4" y="443.76" width="10.5" height="1.2" fill="#1d2b30"/>
<rect x="339.9" y="439.76" width="9.1" height="1.2" fill="#1b1d1c"/>
<rect x="339.9" y="443.76" width="9.1" height="1.2" fill="#1b1d1c"/>
<rect x="347.9" y="439.76" width="1.1" height="5.2" fill="#1b1d1c"/>
<rect x="342.8" y="454.24" width="6.2" height="2.8" fill="#eef0e6"/>
<rect x="330.4" y="454.74" width="9.5" height="1" fill="#4f747c"/>
<rect x="329.4" y="452.94" width="10.5" height="1.2" fill="#1d2b30"/>
<rect x="329.4" y="456.94" width="10.5" height="1.2" fill="#1d2b30"/>
<rect x="339.9" y="452.94" width="9.1" height="1.2" fill="#1b1d1c"/>
<rect x="339.9" y="456.94" width="9.1" height="1.2" fill="#1b1d1c"/>
<rect x="347.9" y="452.94" width="1.1" height="5.2" fill="#1b1d1c"/>
<rect x="342.8" y="467.41" width="6.2" height="2.8" fill="#eef0e6"/>
<rect x="330.4" y="467.91" width="9.5" height="1" fill="#4f747c"/>
<rect x="329.4" y="466.11" width="10.5" height="1.2" fill="#1d2b30"/>
<rect x="329.4" y="470.11" width="10.5" height="1.2" fill="#1d2b30"/>
<rect x="339.9" y="466.11" width="9.1" height="1.2" fill="#1b1d1c"/>
<rect x="339.9" y="470.11" width="9.1" height="1.2" fill="#1b1d1c"/>
<rect x="347.9" y="466.11" width="1.1" height="5.2" fill="#1b1d1c"/>
<rect x="342.8" y="480.59" width="6.2" height="2.8" fill="#eef0e6"/>
<rect x="330.4" y="481.09" width="9.5" height="1" fill="#4f747c"/>
<rect x="329.4" y="479.29" width="10.5" height="1.2" fill="#1d2b30"/>
<rect x="329.4" y="483.29" width="10.5" height="1.2" fill="#1d2b30"/>
<rect x="339.9" y="479.29" width="9.1" height="1.2" fill="#1b1d1c"/>
<rect x="339.9" y="483.29" width="9.1" height="1.2" fill="#1b1d1c"/>
<rect x="347.9" y="479.29" width="1.1" height="5.2" fill="#1b1d1c"/>
<rect x="342.8" y="493.77" width="6.2" height="2.8" fill="#eef0e6"/>
<rect x="330.4" y="494.27" width="9.5" height="1" fill="#4f747c"/>
<rect x="329.4" y="492.47" width="10.5" height="1.2" fill="#1d2b30"/>
<rect x="329.4" y="496.47" width="10.5" height="1.2" fill="#1d2b30"/>
<rect x="339.9" y="492.47" width="9.1" height="1.2" fill="#1b1d1c"/>
<rect x="339.9" y="496.47" width="9.1" height="1.2" fill="#1b1d1c"/>
<rect x="347.9" y="492.47" width="1.1" height="5.2" fill="#1b1d1c"/>
<rect x="342.8" y="506.95" width="6.2" height="2.8" fill="#eef0e6"/>
<rect x="330.4" y="507.45" width="9.5" height="1" fill="#4f747c"/>
<rect x="329.4" y="505.65" width="10.5" height="1.2" fill="#1d2b30"/>
<rect x="329.4" y="509.65" width="10.5" height="1.2" fill="#1d2b30"/>
<rect x="339.9" y="505.65" width="9.1" height="1.2" fill="#1b1d1c"/>
<rect x="339.9" y="509.65" width="9.1" height="1.2" fill="#1b1d1c"/>
<rect x="347.9" y="505.65" width="1.1" height="5.2" fill="#1b1d1c"/>
<rect x="342.8" y="520.13" width="6.2" height="2.8" fill="#eef0e6"/>
<rect x="330.4" y="520.63" width="9.5" height="1" fill="#4f747c"/>
<rect x="329.4" y="518.83" width="10.5" height="1.2" fill="#1d2b30"/>
<rect x="329.4" y="522.83" width="10.5" height="1.2" fill="#1d2b30"/>
<rect x="339.9" y="518.83" width="9.1" height="1.2" fill="#1b1d1c"/>
<rect x="339.9" y="522.83" width="9.1" height="1.2" fill="#1b1d1c"/>
<rect x="347.9" y="518.83" width="1.1" height="5.2" fill="#1b1d1c"/>
<rect x="342.8" y="533.30" width="6.2" height="2.8" fill="#eef0e6"/>
<rect x="330.4" y="533.80" width="9.5" height="1" fill="#4f747c"/>
<rect x="329.4" y="532.00" width="10.5" height="1.2" fill="#1d2b30"/>
<rect x="329.4" y="536.00" width="10.5" height="1.2" fill="#1d2b30"/>
<rect x="339.9" y="532.00" width="9.1" height="1.2" fill="#1b1d1c"/>
<rect x="339.9" y="536.00" width="9.1" height="1.2" fill="#1b1d1c"/>
<rect x="347.9" y="532.00" width="1.1" height="5.2" fill="#1b1d1c"/>
<rect x="342.8" y="546.48" width="6.2" height="2.8" fill="#eef0e6"/>
<rect x="330.4" y="546.98" width="9.5" height="1" fill="#4f747c"/>
<rect x="329.4" y="545.18" width="10.5" height="1.2" fill="#1d2b30"/>
<rect x="329.4" y="549.18" width="10.5" height="1.2" fill="#1d2b30"/>
<rect x="339.9" y="545.18" width="9.1" height="1.2" fill="#1b1d1c"/>
<rect x="339.9" y="549.18" width="9.1" height="1.2" fill="#1b1d1c"/>
<rect x="347.9" y="545.18" width="1.1" height="5.2" fill="#1b1d1c"/>
<rect x="342.8" y="559.66" width="6.2" height="2.8" fill="#eef0e6"/>
<rect x="330.4" y="560.16" width="9.5" height="1" fill="#4f747c"/>
<rect x="329.4" y="558.36" width="10.5" height="1.2" fill="#1d2b30"/>
<rect x="329.4" y="562.36" width="10.5" height="1.2" fill="#1d2b30"/>
<rect x="339.9" y="558.36" width="9.1" height="1.2" fill="#1b1d1c"/>
<rect x="339.9" y="562.36" width="9.1" height="1.2" fill="#1b1d1c"/>
<rect x="347.9" y="558.36" width="1.1" height="5.2" fill="#1b1d1c"/>
<rect x="342.8" y="572.84" width="6.2" height="2.8" fill="#eef0e6"/>
<rect x="330.4" y="573.34" width="9.5" height="1" fill="#4f747c"/>
<rect x="329.4" y="571.54" width="10.5" height="1.2" fill="#1d2b30"/>
<rect x="329.4" y="575.54" width="10.5" height="1.2" fill="#1d2b30"/>
<rect x="339.9" y="571.54" width="9.1" height="1.2" fill="#1b1d1c"/>
<rect x="339.9" y="575.54" width="9.1" height="1.2" fill="#1b1d1c"/>
<rect x="347.9" y="571.54" width="1.1" height="5.2" fill="#1b1d1c"/>
<rect x="342.8" y="586.02" width="6.2" height="2.8" fill="#eef0e6"/>
<rect x="330.4" y="586.52" width="9.5" height="1" fill="#4f747c"/>
<rect x="329.4" y="584.72" width="10.5" height="1.2" fill="#1d2b30"/>
<rect x="329.4" y="588.72" width="10.5" height="1.2" fill="#1d2b30"/>
<rect x="339.9" y="584.72" width="9.1" height="1.2" fill="#1b1d1c"/>
<rect x="339.9" y="588.72" width="9.1" height="1.2" fill="#1b1d1c"/>
<rect x="347.9" y="584.72" width="1.1" height="5.2" fill="#1b1d1c"/>
<rect x="342.8" y="599.19" width="6.2" height="2.8" fill="#eef0e6"/>
<rect x="330.4" y="599.69" width="9.5" height="1" fill="#4f747c"/>
<rect x="329.4" y="597.89" width="10.5" height="1.2" fill="#1d2b30"/>
<rect x="329.4" y="601.89" width="10.5" height="1.2" fill="#1d2b30"/>
<rect x="339.9" y="597.89" width="9.1" height="1.2" fill="#1b1d1c"/>
<rect x="339.9" y="601.89" width="9.1" height="1.2" fill="#1b1d1c"/>
<rect x="347.9" y="597.89" width="1.1" height="5.2" fill="#1b1d1c"/>
<path d="M381.1 370.6 H524.3 Q530.3 370.6 530.3 376.6 V612.0 Q530.3 618.0 524.3 618.0 H381.1 Z" fill="#000" opacity="0.25"/>
<path d="M381.7 371.8 H523.7 Q529.7 371.8 529.7 377.8 V611.4 Q529.7 617.4 523.7 617.4 H381.7 Z" fill="#9cdae7"/>
<rect x="381.7" y="371.8" width="142.0" height="0.9" fill="#d2f0f7"/>
<rect x="381.7" y="371.8" width="1.4" height="245.6" fill="#c4ebf4"/>
<path d="M382.7 375.4 H522.1 Q526.1 375.4 526.1 379.4 V609.8 Q526.1 613.8 522.1 613.8 H382.7" fill="none" stroke="#4b93a8" stroke-width="1.20" stroke-dasharray="1.2 4.3"/>
<rect x="529.7" y="484.0" width="17.5" height="22.9" rx="1.5" fill="#45c4e4"/>
<rect x="529.7" y="486.5" width="17.0" height="0.8" fill="#8fe0f2"/>
<rect x="529.7" y="489.1" width="17.0" height="0.8" fill="#8fe0f2"/>
<rect x="529.7" y="491.7" width="17.0" height="0.8" fill="#8fe0f2"/>
<rect x="529.7" y="494.3" width="17.0" height="0.8" fill="#8fe0f2"/>
<rect x="529.7" y="496.9" width="17.0" height="0.8" fill="#8fe0f2"/>
<rect x="529.7" y="499.5" width="17.0" height="0.8" fill="#8fe0f2"/>
<rect x="529.7" y="502.1" width="17.0" height="0.8" fill="#8fe0f2"/>
<rect x="529.7" y="504.7" width="17.0" height="0.8" fill="#8fe0f2"/>
<rect x="494.8" y="370.3" width="12.6" height="248.6" fill="#48c8e8"/>
<rect x="494.80" y="370.3" width="0.60" height="248.6" fill="#3ab4d6"/>
<rect x="496.00" y="370.3" width="2.20" height="248.6" fill="#72d8f2"/>
<rect x="500.30" y="370.3" width="0.70" height="248.6" fill="#3ebcdf"/>
<rect x="503.30" y="370.3" width="1.50" height="248.6" fill="#62d2ee"/>
<rect x="506.80" y="370.3" width="0.60" height="248.6" fill="#3ab4d6"/>
<text x="456.7" y="416.3" font-size="16.8" fill="#cdeff7" text-anchor="middle" textLength="35.8" lengthAdjust="spacingAndGlyphs">2026</text>
<text x="456.1" y="415.7" font-size="16.8" fill="#5aa8bf" text-anchor="middle" textLength="35.8" lengthAdjust="spacingAndGlyphs">2026</text>
<path d="M438.5 399.5 Q434.6 399.5 434.6 403.3 V405.7 M434.6 411.1 V415.5 Q434.6 419.3 438.5 419.3 H473.7 Q477.6 419.3 477.6 415.5 V411.1 M477.6 405.7 V403.3 Q477.6 399.5 473.7 399.5" fill="none" stroke="#cdeff7" stroke-width="0.80" stroke-linecap="round"/>
<path transform="translate(-0.42,-0.42)" d="M438.5 399.5 Q434.6 399.5 434.6 403.3 V405.7 M434.6 411.1 V415.5 Q434.6 419.3 438.5 419.3 H473.7 Q477.6 419.3 477.6 415.5 V411.1 M477.6 405.7 V403.3 Q477.6 399.5 473.7 399.5" fill="none" stroke="#5aa8bf" stroke-width="0.80" stroke-linecap="round"/>
<path d="M463.6 399.0 Q467.9 389.9 479.5 388.8 Q475.1 399.6 463.6 399.0 Z" fill="#5aa8bf" opacity="0.9"/>
<path d="M464.7 398.3 Q471.1 394.1 478.7 389.5" fill="none" stroke="#cdeff7" stroke-width="0.56" opacity="0.7"/>
<path d="M458.2 399.4 L464.0 399.0" fill="none" stroke="#5aa8bf" stroke-width="0.80" stroke-linecap="round"/>
<rect x="382.6" y="387.75" width="9.4" height="2.8" fill="#e4f4f8"/>
<rect x="373.6" y="388.25" width="8.1" height="1" fill="#b9b98c"/>
<rect x="372.6" y="386.45" width="9.1" height="1.2" fill="#1e1e16"/>
<rect x="372.6" y="390.45" width="9.1" height="1.2" fill="#1e1e16"/>
<rect x="381.7" y="386.45" width="10.3" height="1.2" fill="#161819"/>
<rect x="381.7" y="390.45" width="10.3" height="1.2" fill="#161819"/>
<rect x="390.9" y="386.45" width="1.1" height="5.2" fill="#161819"/>
<rect x="382.6" y="401.11" width="9.4" height="2.8" fill="#e4f4f8"/>
<rect x="373.6" y="401.61" width="8.1" height="1" fill="#b9b98c"/>
<rect x="372.6" y="399.81" width="9.1" height="1.2" fill="#1e1e16"/>
<rect x="372.6" y="403.81" width="9.1" height="1.2" fill="#1e1e16"/>
<rect x="381.7" y="399.81" width="10.3" height="1.2" fill="#161819"/>
<rect x="381.7" y="403.81" width="10.3" height="1.2" fill="#161819"/>
<rect x="390.9" y="399.81" width="1.1" height="5.2" fill="#161819"/>
<rect x="382.6" y="414.46" width="9.4" height="2.8" fill="#e4f4f8"/>
<rect x="373.6" y="414.96" width="8.1" height="1" fill="#b9b98c"/>
<rect x="372.6" y="413.16" width="9.1" height="1.2" fill="#1e1e16"/>
<rect x="372.6" y="417.16" width="9.1" height="1.2" fill="#1e1e16"/>
<rect x="381.7" y="413.16" width="10.3" height="1.2" fill="#161819"/>
<rect x="381.7" y="417.16" width="10.3" height="1.2" fill="#161819"/>
<rect x="390.9" y="413.16" width="1.1" height="5.2" fill="#161819"/>
<rect x="382.6" y="427.82" width="9.4" height="2.8" fill="#e4f4f8"/>
<rect x="373.6" y="428.32" width="8.1" height="1" fill="#b9b98c"/>
<rect x="372.6" y="426.52" width="9.1" height="1.2" fill="#1e1e16"/>
<rect x="372.6" y="430.52" width="9.1" height="1.2" fill="#1e1e16"/>
<rect x="381.7" y="426.52" width="10.3" height="1.2" fill="#161819"/>
<rect x="381.7" y="430.52" width="10.3" height="1.2" fill="#161819"/>
<rect x="390.9" y="426.52" width="1.1" height="5.2" fill="#161819"/>
<rect x="382.6" y="441.17" width="9.4" height="2.8" fill="#e4f4f8"/>
<rect x="373.6" y="441.67" width="8.1" height="1" fill="#b9b98c"/>
<rect x="372.6" y="439.87" width="9.1" height="1.2" fill="#1e1e16"/>
<rect x="372.6" y="443.87" width="9.1" height="1.2" fill="#1e1e16"/>
<rect x="381.7" y="439.87" width="10.3" height="1.2" fill="#161819"/>
<rect x="381.7" y="443.87" width="10.3" height="1.2" fill="#161819"/>
<rect x="390.9" y="439.87" width="1.1" height="5.2" fill="#161819"/>
<rect x="382.6" y="454.53" width="9.4" height="2.8" fill="#e4f4f8"/>
<rect x="373.6" y="455.03" width="8.1" height="1" fill="#b9b98c"/>
<rect x="372.6" y="453.23" width="9.1" height="1.2" fill="#1e1e16"/>
<rect x="372.6" y="457.23" width="9.1" height="1.2" fill="#1e1e16"/>
<rect x="381.7" y="453.23" width="10.3" height="1.2" fill="#161819"/>
<rect x="381.7" y="457.23" width="10.3" height="1.2" fill="#161819"/>
<rect x="390.9" y="453.23" width="1.1" height="5.2" fill="#161819"/>
<rect x="382.6" y="467.89" width="9.4" height="2.8" fill="#e4f4f8"/>
<rect x="373.6" y="468.39" width="8.1" height="1" fill="#b9b98c"/>
<rect x="372.6" y="466.59" width="9.1" height="1.2" fill="#1e1e16"/>
<rect x="372.6" y="470.59" width="9.1" height="1.2" fill="#1e1e16"/>
<rect x="381.7" y="466.59" width="10.3" height="1.2" fill="#161819"/>
<rect x="381.7" y="470.59" width="10.3" height="1.2" fill="#161819"/>
<rect x="390.9" y="466.59" width="1.1" height="5.2" fill="#161819"/>
<rect x="382.6" y="481.24" width="9.4" height="2.8" fill="#e4f4f8"/>
<rect x="373.6" y="481.74" width="8.1" height="1" fill="#b9b98c"/>
<rect x="372.6" y="479.94" width="9.1" height="1.2" fill="#1e1e16"/>
<rect x="372.6" y="483.94" width="9.1" height="1.2" fill="#1e1e16"/>
<rect x="381.7" y="479.94" width="10.3" height="1.2" fill="#161819"/>
<rect x="381.7" y="483.94" width="10.3" height="1.2" fill="#161819"/>
<rect x="390.9" y="479.94" width="1.1" height="5.2" fill="#161819"/>
<rect x="382.6" y="494.60" width="9.4" height="2.8" fill="#e4f4f8"/>
<rect x="373.6" y="495.10" width="8.1" height="1" fill="#b9b98c"/>
<rect x="372.6" y="493.30" width="9.1" height="1.2" fill="#1e1e16"/>
<rect x="372.6" y="497.30" width="9.1" height="1.2" fill="#1e1e16"/>
<rect x="381.7" y="493.30" width="10.3" height="1.2" fill="#161819"/>
<rect x="381.7" y="497.30" width="10.3" height="1.2" fill="#161819"/>
<rect x="390.9" y="493.30" width="1.1" height="5.2" fill="#161819"/>
<rect x="382.6" y="507.95" width="9.4" height="2.8" fill="#e4f4f8"/>
<rect x="373.6" y="508.45" width="8.1" height="1" fill="#b9b98c"/>
<rect x="372.6" y="506.65" width="9.1" height="1.2" fill="#1e1e16"/>
<rect x="372.6" y="510.65" width="9.1" height="1.2" fill="#1e1e16"/>
<rect x="381.7" y="506.65" width="10.3" height="1.2" fill="#161819"/>
<rect x="381.7" y="510.65" width="10.3" height="1.2" fill="#161819"/>
<rect x="390.9" y="506.65" width="1.1" height="5.2" fill="#161819"/>
<rect x="382.6" y="521.31" width="9.4" height="2.8" fill="#e4f4f8"/>
<rect x="373.6" y="521.81" width="8.1" height="1" fill="#b9b98c"/>
<rect x="372.6" y="520.01" width="9.1" height="1.2" fill="#1e1e16"/>
<rect x="372.6" y="524.01" width="9.1" height="1.2" fill="#1e1e16"/>
<rect x="381.7" y="520.01" width="10.3" height="1.2" fill="#161819"/>
<rect x="381.7" y="524.01" width="10.3" height="1.2" fill="#161819"/>
<rect x="390.9" y="520.01" width="1.1" height="5.2" fill="#161819"/>
<rect x="382.6" y="534.67" width="9.4" height="2.8" fill="#e4f4f8"/>
<rect x="373.6" y="535.17" width="8.1" height="1" fill="#b9b98c"/>
<rect x="372.6" y="533.37" width="9.1" height="1.2" fill="#1e1e16"/>
<rect x="372.6" y="537.37" width="9.1" height="1.2" fill="#1e1e16"/>
<rect x="381.7" y="533.37" width="10.3" height="1.2" fill="#161819"/>
<rect x="381.7" y="537.37" width="10.3" height="1.2" fill="#161819"/>
<rect x="390.9" y="533.37" width="1.1" height="5.2" fill="#161819"/>
<rect x="382.6" y="548.02" width="9.4" height="2.8" fill="#e4f4f8"/>
<rect x="373.6" y="548.52" width="8.1" height="1" fill="#b9b98c"/>
<rect x="372.6" y="546.72" width="9.1" height="1.2" fill="#1e1e16"/>
<rect x="372.6" y="550.72" width="9.1" height="1.2" fill="#1e1e16"/>
<rect x="381.7" y="546.72" width="10.3" height="1.2" fill="#161819"/>
<rect x="381.7" y="550.72" width="10.3" height="1.2" fill="#161819"/>
<rect x="390.9" y="546.72" width="1.1" height="5.2" fill="#161819"/>
<rect x="382.6" y="561.38" width="9.4" height="2.8" fill="#e4f4f8"/>
<rect x="373.6" y="561.88" width="8.1" height="1" fill="#b9b98c"/>
<rect x="372.6" y="560.08" width="9.1" height="1.2" fill="#1e1e16"/>
<rect x="372.6" y="564.08" width="9.1" height="1.2" fill="#1e1e16"/>
<rect x="381.7" y="560.08" width="10.3" height="1.2" fill="#161819"/>
<rect x="381.7" y="564.08" width="10.3" height="1.2" fill="#161819"/>
<rect x="390.9" y="560.08" width="1.1" height="5.2" fill="#161819"/>
<rect x="382.6" y="574.73" width="9.4" height="2.8" fill="#e4f4f8"/>
<rect x="373.6" y="575.23" width="8.1" height="1" fill="#b9b98c"/>
<rect x="372.6" y="573.43" width="9.1" height="1.2" fill="#1e1e16"/>
<rect x="372.6" y="577.43" width="9.1" height="1.2" fill="#1e1e16"/>
<rect x="381.7" y="573.43" width="10.3" height="1.2" fill="#161819"/>
<rect x="381.7" y="577.43" width="10.3" height="1.2" fill="#161819"/>
<rect x="390.9" y="573.43" width="1.1" height="5.2" fill="#161819"/>
<rect x="382.6" y="588.09" width="9.4" height="2.8" fill="#e4f4f8"/>
<rect x="373.6" y="588.59" width="8.1" height="1" fill="#b9b98c"/>
<rect x="372.6" y="586.79" width="9.1" height="1.2" fill="#1e1e16"/>
<rect x="372.6" y="590.79" width="9.1" height="1.2" fill="#1e1e16"/>
<rect x="381.7" y="586.79" width="10.3" height="1.2" fill="#161819"/>
<rect x="381.7" y="590.79" width="10.3" height="1.2" fill="#161819"/>
<rect x="390.9" y="586.79" width="1.1" height="5.2" fill="#161819"/>
<rect x="382.6" y="601.45" width="9.4" height="2.8" fill="#e4f4f8"/>
<rect x="373.6" y="601.95" width="8.1" height="1" fill="#b9b98c"/>
<rect x="372.6" y="600.15" width="9.1" height="1.2" fill="#1e1e16"/>
<rect x="372.6" y="604.15" width="9.1" height="1.2" fill="#1e1e16"/>
<rect x="381.7" y="600.15" width="10.3" height="1.2" fill="#161819"/>
<rect x="381.7" y="604.15" width="10.3" height="1.2" fill="#161819"/>
<rect x="390.9" y="600.15" width="1.1" height="5.2" fill="#161819"/>
<g stroke="#2a2a2a" stroke-width="1.4" fill="none">
<path d="M254.4 372.5 H283" stroke-dasharray="5 3.4"/>
<path d="M262.4 386 V606" stroke-dasharray="4.4 3.2"/>
<path d="M254.4 620.5 H281" stroke-dasharray="5 3.4"/>
<path d="M379.3 620 V648" stroke-dasharray="4.4 3"/>
<path d="M534.6 620 V648" stroke-dasharray="4.4 3"/>
<path d="M393 639.2 H522" stroke-dasharray="4.6 2.4"/>
</g>
<path d="M285.3 372.6 H339.9" stroke="#eef6f6" stroke-width="1.8" stroke-dasharray="5.6 3" stroke-dashoffset="-1"/>
<path d="M339.9 372.6 H381.7" stroke="#f0eec8" stroke-width="1.8" stroke-dasharray="5.6 3" stroke-dashoffset="-1"/>
<g fill="#333">
<path d="M262.4 373.8 L257.8 385.8 L262.4 382.4 L267 385.8 Z"/>
<path d="M262.4 617.4 L257.8 605.4 L262.4 608.8 L267 605.4 Z"/>
<path d="M381.3 639.2 L393.6 634.6 L390 639.2 L393.6 643.8 Z"/>
<path d="M533.6 639.2 L521.3 634.6 L524.9 639.2 L521.3 643.8 Z"/>
</g>
<text x="457.2" y="659.2" font-size="16.5" fill="#2e2e2e" text-anchor="middle" textLength="81.8" lengthAdjust="spacingAndGlyphs">3inch/9cm</text>
<text transform="translate(236.3,496.5) rotate(90)" font-size="17" fill="#2e2e2e" text-anchor="middle" textLength="102.5" lengthAdjust="spacingAndGlyphs">6inch/15.5cm</text>
</svg></body></html>
